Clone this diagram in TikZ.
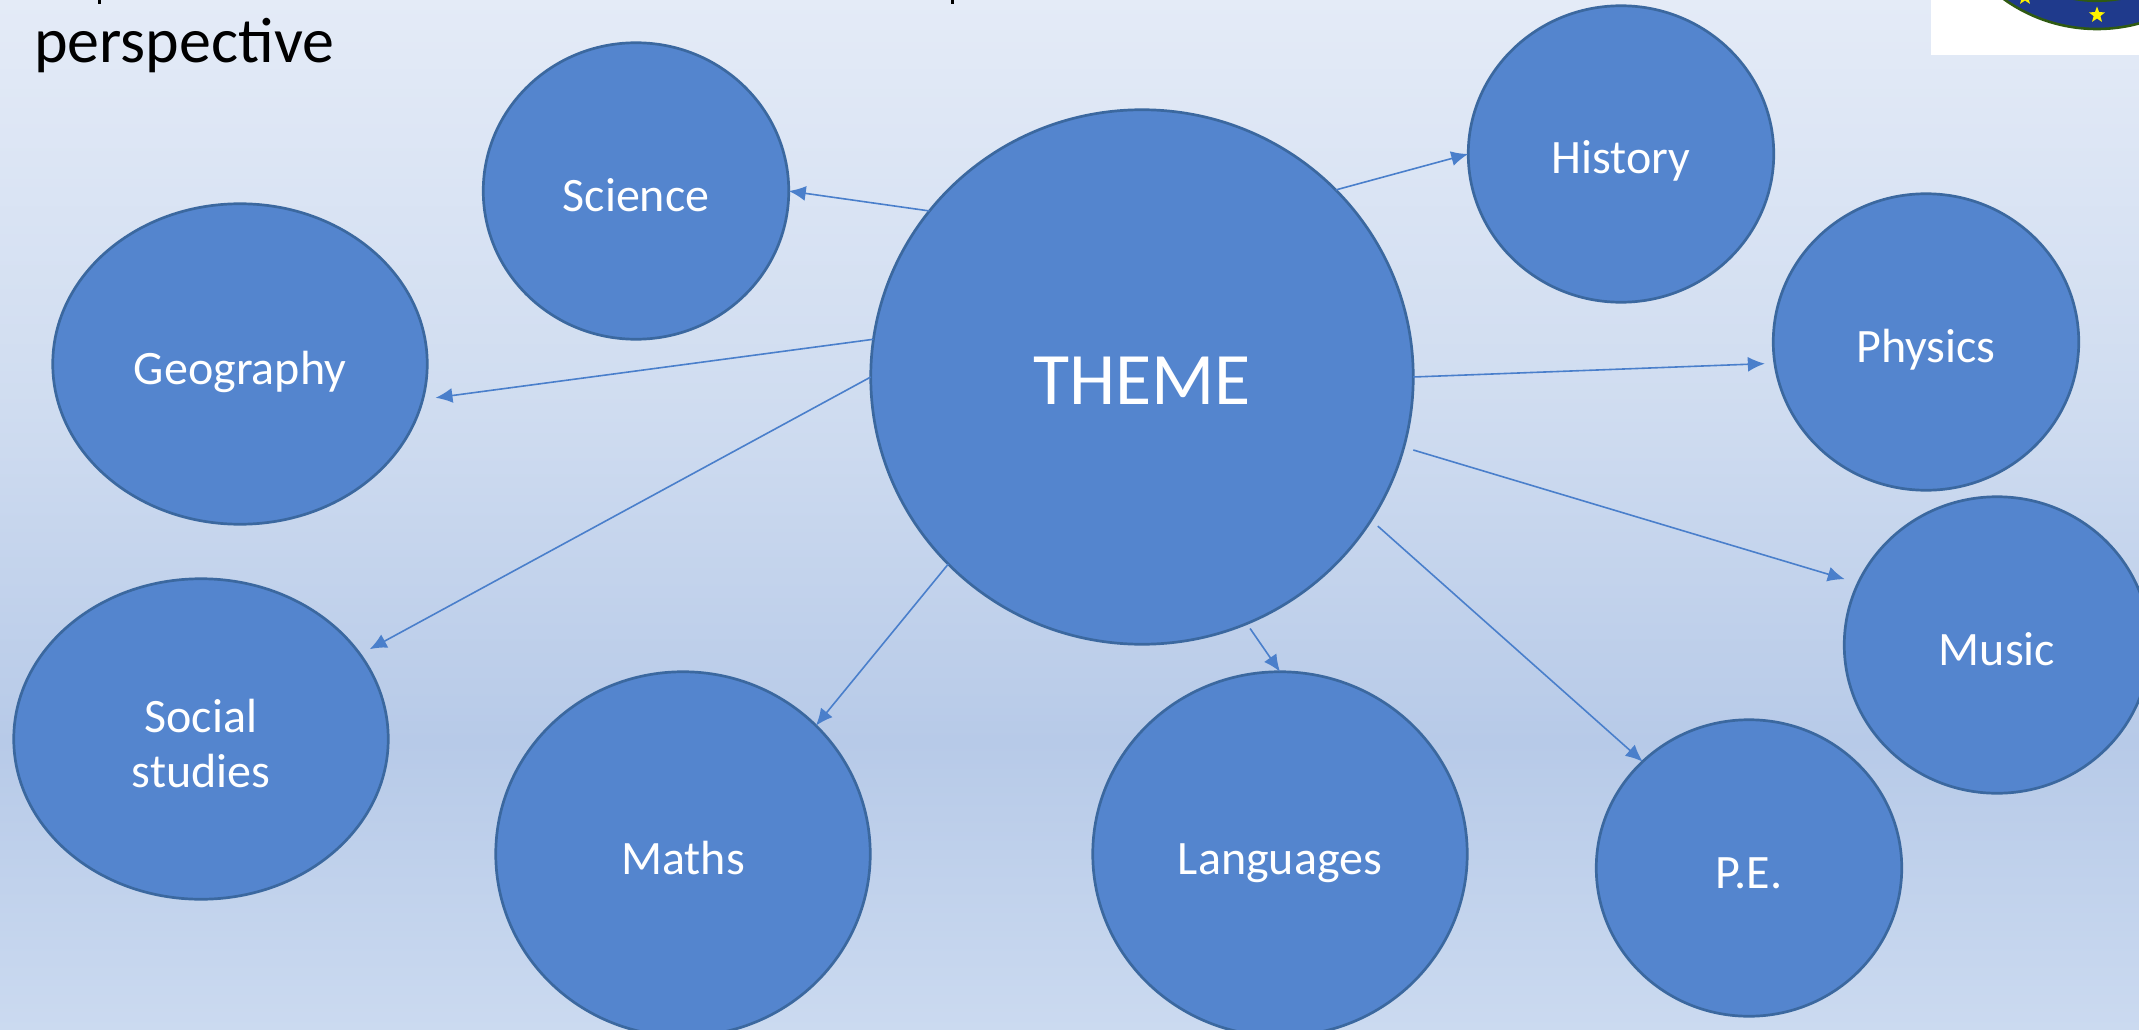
\documentclass[tikz,border=0pt]{standalone}
\usepackage{fontspec}
\setmainfont{Carlito}
\usetikzlibrary{shapes.geometric,arrows.meta,shadings}
\definecolor{bgtop}{HTML}{E4EBF7}
\definecolor{bgup}{HTML}{CFDCF0}
\definecolor{bgmid}{HTML}{B7CAE8}
\definecolor{bgbot}{HTML}{CBDAF0}
\definecolor{bubblefill}{HTML}{5485CE}
\definecolor{bubbleline}{HTML}{3B689F}
\definecolor{linkblue}{HTML}{4A7FCB}
\definecolor{logoblue}{HTML}{1F3A8C}
\definecolor{logogreen}{HTML}{2F5A12}
\pgfdeclareverticalshading{slidebg}{100bp}{
  color(0bp)=(bgbot);
  color(25bp)=(bgbot);
  color(39bp)=(bgmid);
  color(55bp)=(bgup);
  color(75bp)=(bgtop);
  color(100bp)=(bgtop)}
\tikzset{
  bubble/.style={ellipse,draw=bubbleline,fill=bubblefill,line width=2.7pt,inner sep=0pt,outer sep=0pt,
    text=white,align=center,font=\fontsize{48}{55}\selectfont},
  oneline/.style={text height=40pt,text depth=0pt},
  small/.style={bubble,minimum width=305.5pt,minimum height=296.5pt},
  large/.style={bubble,minimum width=374.5pt,minimum height=320.5pt},
  tall/.style={bubble,minimum width=374.5pt,minimum height=364.5pt},
  link/.style={draw=linkblue,line width=1.6pt,-{Latex[length=17pt,width=15pt]}},
  logostar/.style={star,star points=5,star point ratio=2.4,fill=yellow,inner sep=0pt,minimum size=17pt}
}
\begin{document}
\begin{tikzpicture}[x=1pt,y=-1pt]
\useasboundingbox (0,0) rectangle (2139,1030);
\clip (0,0) rectangle (2139,1030);
\shade[shading=slidebg] (0,0) rectangle (2139,1030);

% logo
\fill[white] (1931,0) rectangle (2139,55);
\fill[logoblue,draw=logogreen,line width=2.6pt] (2097,-131) circle (160);
\fill[logoblue,draw=logogreen,line width=2.2pt] (2097,-131) circle (132);
\node[logostar] (starA) at (2097,15) {};
\node[logostar] (starB) at (2025,-3) {};

% clipped first title line: only the descenders are visible
\fill[black] (97.5,0) rectangle (101,4);
\fill[black] (950.5,0) rectangle (954,4);
\fill[black] (1149,0) arc[start angle=180,end angle=0,x radius=6,y radius=-4.5] -- cycle;

\node[anchor=base west,inner sep=0pt,font=\fontsize{64}{70}\selectfont,text=black] (title) at (34,63) {perspective};

\node[bubble,minimum width=542.5pt,minimum height=534.5pt,font=\fontsize{74}{80}\selectfont,text height=55pt,text depth=0pt] (theme) at (1142,377) {THEME};
\node[small,oneline] (science) at (636,191) {Science};
\node[large,oneline] (geography) at (240,364) {Geography};
\node[large] (social) at (201,739) {\rule{0pt}{42pt}Social\\studies};
\node[tall,oneline] (maths) at (683,854) {Maths};
\node[tall,oneline] (languages) at (1280,854) {Languages};
\node[small,oneline] (pe) at (1749,868) {P.E.};
\node[small,oneline] (music) at (1997,645) {Music};
\node[small,oneline] (physics) at (1926,342) {Physics};
\node[small,oneline] (history) at (1621,154) {History};

\draw[link] (theme.142) -- (science.east);
\draw[link] (theme.44.6) -- (history.west);
\draw[link,shorten >=13pt] (theme.172.8) -- (geography.-11);
\draw[link,shorten >=11pt] (theme.west) -- (social.28);
\draw[link] (theme.224.3) -- (maths.44.6);
\draw[link,shorten <=6pt] (theme.-67.5) -- (languages.north);
\draw[link,shorten <=9pt] (theme.-32) -- (pe.135.5);
\draw[link,shorten <=10pt,shorten >=14pt] (theme.-15.3) -- (music.156.7);
\draw[link,shorten >=10pt] (theme.east) -- (physics.188);
\end{tikzpicture}
\end{document}
